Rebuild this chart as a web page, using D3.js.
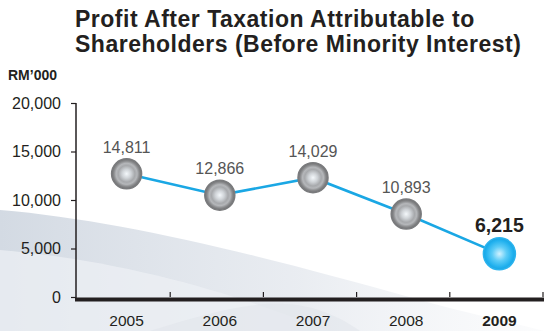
<!DOCTYPE html>
<html><head><meta charset="utf-8">
<script src="https://cdn.jsdelivr.net/npm/d3@7"></script>
<style>html,body{margin:0;padding:0;background:#fff}svg{display:block}</style>
</head><body>
<script>
// Data
const years = ["2005", "2006", "2007", "2008", "2009"];
const profit = [14811, 12866, 14029, 10893, 6215];          // labelled values (RM'000)
const markerLevel = [12700, 10500, 12300, 8550, 4450];      // vertical level of markers as drawn in the source chart
const yTicks = [0, 5000, 10000, 15000, 20000];
const titleLines = ["Profit After Taxation Attributable to", "Shareholders (Before Minority Interest)"];
const unitLabel = "RM\u2019000";

const W = 544, H = 331;
const FONT = "'Liberation Sans', Arial, sans-serif";
const svg = d3.select("body").append("svg").attr("width", W).attr("height", H)
  .style("font-family", FONT);
const defs = svg.append("defs");

// background swoosh
const bg1 = defs.append("linearGradient").attr("id", "bg1").attr("x1", 0).attr("y1", 0).attr("x2", 1).attr("y2", 0);
bg1.append("stop").attr("offset", 0).attr("stop-color", "#d3dae3").attr("stop-opacity", 1);
bg1.append("stop").attr("offset", 0.55).attr("stop-color", "#e4e8ee").attr("stop-opacity", 0.8);
bg1.append("stop").attr("offset", 1).attr("stop-color", "#f2f4f7").attr("stop-opacity", 0.3);
svg.append("path")
  .attr("d", "M0,210 C120,220 260,255 420,300 C470,314 510,322 544,331 L0,331 Z")
  .attr("fill", "url(#bg1)");
svg.append("path")
  .attr("d", "M0,250 C140,262 250,300 330,331 L0,331 Z")
  .attr("fill", "#eef1f5").attr("opacity", 0.7);
svg.append("path")
  .attr("d", "M150,331 C250,300 300,290 360,331 Z")
  .attr("fill", "#dfe4ea").attr("opacity", 0.5);

// gradients for markers
function radial(id, stops) {
  const g = defs.append("radialGradient").attr("id", id).attr("cx", "50%").attr("cy", "50%").attr("r", "50%");
  stops.forEach(s => g.append("stop").attr("offset", s[0]).attr("stop-color", s[1]));
}
radial("grayBall", [[0, "#f4f8fb"], [0.3, "#cfd3d7"], [0.55, "#a7a9ac"], [0.7, "#b5b7ba"], [0.85, "#8a8b8d"], [1, "#6e6f71"]]);
radial("blueBall", [[0, "#d2f2ff"], [0.45, "#5cccf7"], [0.85, "#1fb0ee"], [1, "#1aa3e0"]]);

// scales
const x = d3.scaleBand().domain(years).range([80, 546]).paddingInner(0).paddingOuter(0);
const y = d3.scaleLinear().domain([0, 20000]).range([297, 103]);
const cx = d => x(d) + x.bandwidth() / 2;

// title
svg.append("g").selectAll("text").data(titleLines).join("text")
  .attr("x", 75).attr("y", (d, i) => 27 + i * 25)
  .attr("font-size", 23).attr("font-weight", "bold").attr("fill", "#231f20")
  .attr("letter-spacing", 0.5)
  .text(d => d);
svg.append("text").attr("x", 8).attr("y", 80).attr("font-size", 14).attr("font-weight", "bold")
  .attr("fill", "#231f20").text(unitLabel);

// y axis
const yAxis = d3.axisLeft(y).tickValues(yTicks).tickSize(5).tickPadding(10)
  .tickFormat(d3.format(","));
const yg = svg.append("g").attr("transform", "translate(76,0)").call(yAxis);
yg.select(".domain").attr("stroke", "#231f20").attr("stroke-width", 1.5).attr("d", "M0,103V298");
yg.selectAll(".tick line").attr("stroke", "#231f20").attr("stroke-width", 1.2);
yg.selectAll(".tick text").attr("font-size", 16).attr("fill", "#231f20")
  .attr("font-family", FONT);

// x axis
const xAxis = d3.axisBottom(x).tickSize(0).tickPadding(16);
const xg = svg.append("g").attr("transform", "translate(0,299)").call(xAxis);
xg.select(".domain").remove();
xg.selectAll(".tick text").attr("font-size", 15.5).attr("fill", "#231f20")
  .attr("font-family", FONT)
  .attr("font-weight", d => d === years[years.length - 1] ? "bold" : "normal");
svg.append("line").attr("x1", 75).attr("x2", 544).attr("y1", 299.5).attr("y2", 299.5)
  .attr("stroke", "#231f20").attr("stroke-width", 4);
// category separator ticks
svg.append("g").selectAll("line").data(years).join("line")
  .attr("x1", d => x(d) + x.bandwidth() - 3).attr("x2", d => x(d) + x.bandwidth() - 3)
  .attr("y1", 297).attr("y2", 292)
  .attr("stroke", "#231f20").attr("stroke-width", 1.2);

// line
const pts = years.map((d, i) => [cx(d), y(markerLevel[i])]);
svg.append("path").attr("d", d3.line()(pts)).attr("fill", "none")
  .attr("stroke", "#1aa7e4").attr("stroke-width", 2.6);

// markers
const last = years.length - 1;
svg.append("g").selectAll("circle").data(years).join("circle")
  .attr("cx", d => cx(d)).attr("cy", (d, i) => y(markerLevel[i]))
  .attr("r", (d, i) => i === last ? 16 : 15)
  .attr("fill", (d, i) => i === last ? "url(#blueBall)" : "url(#grayBall)")
  .attr("stroke", (d, i) => i === last ? "#2ab3ee" : "#7a7b7d").attr("stroke-width", 1.5);

// value labels
svg.append("g").selectAll("text").data(years).join("text")
  .attr("x", d => cx(d))
  .attr("y", (d, i) => y(markerLevel[i]) - (i === last ? 22 : 21))
  .attr("text-anchor", "middle")
  .attr("font-size", (d, i) => i === last ? 19.5 : 16)
  .attr("font-weight", (d, i) => i === last ? "bold" : "normal")
  .attr("fill", (d, i) => i === last ? "#231f20" : "#555")
  .text((d, i) => d3.format(",")(profit[i]));
</script>
</body></html>
